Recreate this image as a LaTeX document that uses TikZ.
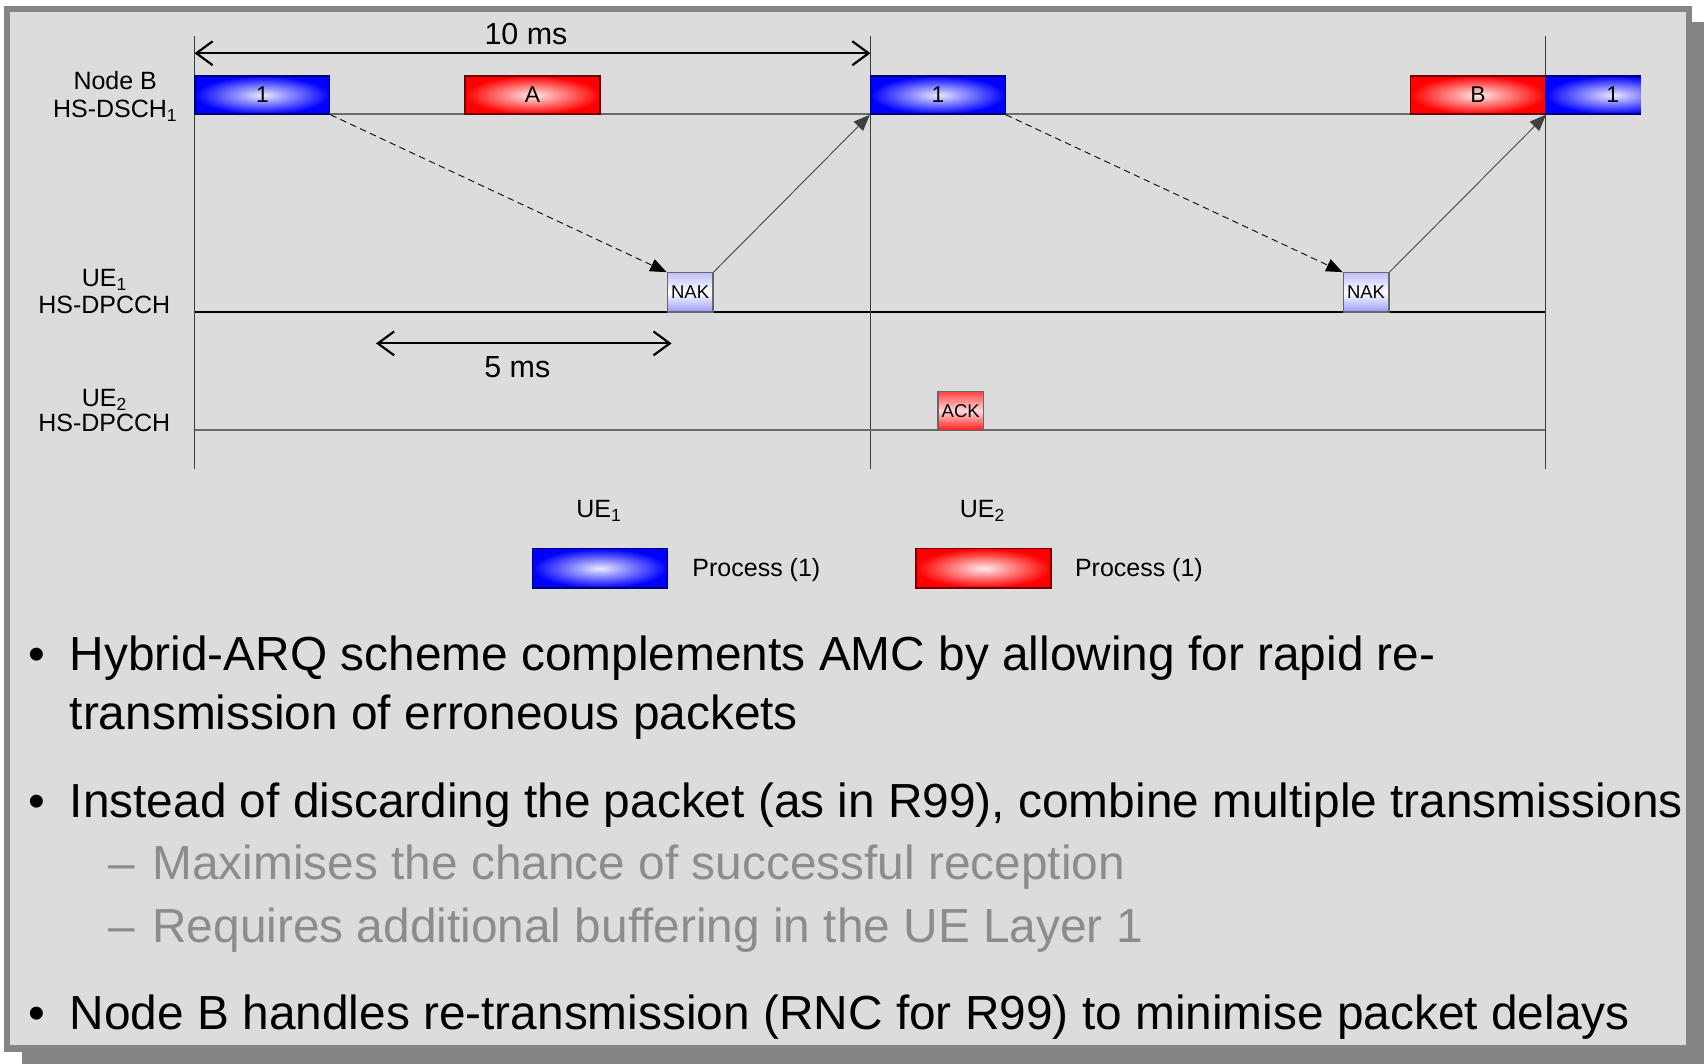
\documentclass[tikz,border=0pt]{standalone}
\usepackage{fontspec}
\setmainfont{Liberation Sans}
\usetikzlibrary{arrows.meta}

\definecolor{panelfill}{HTML}{DCDCDC}
\definecolor{framegray}{HTML}{858585}
\definecolor{subgray}{HTML}{8C8C8C}
\definecolor{axisgray}{HTML}{3C3C3C}
\definecolor{trackgray}{HTML}{6A6A6A}
\definecolor{pktblue}{HTML}{0000FF}
\definecolor{pktred}{HTML}{FF0000}

\tikzset{
  lbl/.style={font=\fontsize{23}{26}\selectfont, inner sep=0pt},
  dimlbl/.style={font=\fontsize{28}{32}\selectfont, inner sep=0pt},
  bullettext/.style={font=\fontsize{44}{53}\selectfont, inner sep=0pt, anchor=base west},
  subtext/.style={bullettext, text=subgray},
  pkt/.style={minimum width=124pt, minimum height=35pt, inner sep=0pt,
    line width=1.2pt, shading=radial, font=\fontsize{21}{24}\selectfont},
  bluepkt/.style={pkt, draw=blue!45!black, inner color=white!92!pktblue, outer color=pktblue},
  redpkt/.style={pkt, draw=red!45!black, inner color=white!92!pktred, outer color=pktred},
  ackbase/.style={minimum width=42pt, minimum height=36pt, inner sep=0pt,
    line width=1.2pt, draw=black!60, font=\fontsize{17}{19}\selectfont},
  nakbox/.style={ackbase, top color=blue!25!white, bottom color=blue!40!white, middle color=white},
  ackbox/.style={ackbase, top color=red!75!white, bottom color=red!90!white, middle color=white!85!red},
  axis/.style={axisgray, line width=1.2pt},
  track/.style={trackgray, line width=2pt},
  dimarrow/.style={line width=2pt, {Straight Barb[length=15pt,width=22pt]}-{Straight Barb[length=15pt,width=22pt]}},
  feedback/.style={line width=0.8pt, -{Triangle[length=15pt,width=12pt]}},
}

\begin{document}
\begin{tikzpicture}[x=1pt,y=-1pt]
  \useasboundingbox (0,0) rectangle (1568,979);

  % slide panel with drop shadow
  \begin{scope}
    \clip (0,0) rectangle (1568,979);
    \fill[framegray] (20,20) rectangle (1590,1000);
  \end{scope}
  \draw[framegray, line width=6pt, fill=panelfill] (6.5,8.5) rectangle (1554,965);

  % frame boundaries (10 ms each)
  \coordinate (f0t) at (179,33);  \coordinate (f0b) at (179,432);
  \coordinate (f1t) at (801,33);  \coordinate (f1b) at (801,432);
  \coordinate (f2t) at (1422,33); \coordinate (f2b) at (1422,432);
  \draw[axis] (f0t) -- (f0b);
  \draw[axis] (f1t) -- (f1b);
  \draw[axis] (f2t) -- (f2b);

  % channel tracks
  \coordinate (dschL) at (179,105); \coordinate (dschR) at (1422,105);
  \coordinate (ue1L) at (179,287);  \coordinate (ue1R) at (1422,287);
  \coordinate (ue2L) at (179,396);  \coordinate (ue2R) at (1422,396);
  \draw[track] (dschL) -- (dschR);
  \draw[black, line width=1.5pt] (ue1L) -- (ue1R);
  \draw[track] (ue2L) -- (ue2R);

  % channel names
  \node[lbl, anchor=base] (nbA) at (106,82.5) {Node B};
  \node[lbl, anchor=base] (nbB) at (106,108) {HS-DSCH\textsubscript{1}};
  \node[lbl, anchor=base] (u1A) at (96,264) {UE\textsubscript{1}};
  \node[lbl, anchor=base] (u1B) at (96,288.5) {HS-DPCCH};
  \node[lbl, anchor=base] (u2A) at (96,374) {UE\textsubscript{2}};
  \node[lbl, anchor=base] (u2B) at (96,397.5) {HS-DPCCH};

  % packets on HS-DSCH
  \node[bluepkt] (p1) at (241.5,87.5) {1};
  \node[redpkt] (pA) at (490,87.5) {A};
  \node[bluepkt] (p1b) at (863,87.5) {1};
  \node[redpkt] (pB) at (1360,87.5) {B};
  \begin{scope}
    \clip (1422,60) rectangle (1510,110);
    \node[bluepkt] (p1c) at (1484,87.5) {1};
  \end{scope}

  % acknowledgements
  \node[nakbox] (nak1) at (635,269) {NAK};
  \node[nakbox] (nak2) at (1257,269) {NAK};
  \node[ackbox] (ack) at (884,378) {ACK};

  % transmission / feedback arrows
  \draw[feedback, dash pattern=on 6pt off 4pt] (p1.south east) -- (nak1.north west);
  \draw[feedback, black!75] (nak1.north east) -- (p1b.south west);
  \draw[feedback, dash pattern=on 6pt off 4pt] (p1b.south east) -- (nak2.north west);
  \draw[feedback, black!75] (nak2.north east) -- (pB.south east);

  % timing dimensions
  \coordinate (d10L) at (179,49); \coordinate (d10R) at (801,49);
  \draw[dimarrow] (d10L) -- (d10R);
  \node[dimlbl, anchor=base] (d10) at (484,41) {10 ms};
  \coordinate (d5L) at (346,316); \coordinate (d5R) at (618,316);
  \draw[dimarrow] (d5L) -- (d5R);
  \node[dimlbl, anchor=base] (d5) at (476,347.5) {5 ms};

  % legend
  \node[lbl, anchor=base] (lgU1) at (551,476.5) {UE\textsubscript{1}};
  \node[lbl, anchor=base] (lgU2) at (904,476.5) {UE\textsubscript{2}};
  \node[bluepkt, minimum height=36pt] (lgB) at (552,523) {};
  \node[redpkt, minimum height=36pt] (lgR) at (905,523) {};
  \node[lbl, anchor=base west] (lgBt) at (637,530.5) {Process (1)};
  \node[lbl, anchor=base west] (lgRt) at (989,530.5) {Process (1)};

  % bullet points
  \node[bullettext] (b1) at (26,617) {\textbullet};
  \node[bullettext] (t1a) at (64,617) {Hybrid-ARQ scheme complements AMC by allowing for rapid re-};
  \node[bullettext] (t1b) at (64,671) {transmission of erroneous packets};
  \node[bullettext] (b2) at (26,752) {\textbullet};
  \node[bullettext] (t2) at (64,752) {Instead of discarding the packet (as in R99), combine multiple transmissions};
  \node[subtext] (s1d) at (100,809) {–};
  \node[subtext] (s1) at (140,809) {Maximises the chance of successful reception};
  \node[subtext] (s2d) at (100,867) {–};
  \node[subtext] (s2) at (140,867) {Requires additional buffering in the UE Layer 1};
  \node[bullettext] (b3) at (26,947) {\textbullet};
  \node[bullettext] (t3) at (64,947) {Node B handles re-transmission (RNC for R99) to minimise packet delays};
\end{tikzpicture}
\end{document}
